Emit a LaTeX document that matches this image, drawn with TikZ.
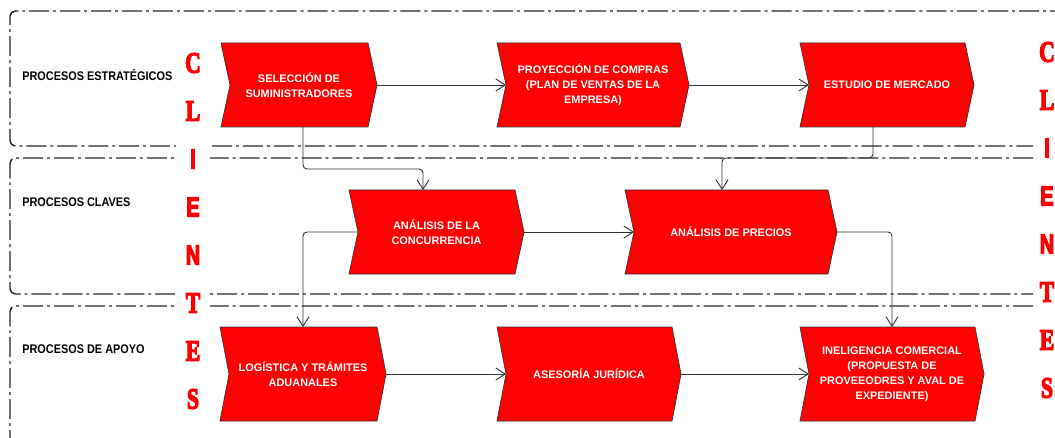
\documentclass[tikz,border=0pt]{standalone}
\usepackage{fontspec}
\setmainfont{Liberation Sans}
\newfontfamily\clisrf{Liberation Serif}[UprightFont={* Bold}]
\newfontfamily\clisans{Liberation Sans}[UprightFont={* Bold}]
\usetikzlibrary{arrows.meta}
\newcommand\heavy[1]{\special{pdf:literal direct 2 Tr 1.1 w}#1\special{pdf:literal direct 0 Tr}}
\newcommand\sletter[1]{\scalebox{0.74}[1]{\clisrf\fontsize{22}{22}\selectfont\heavy{#1}}}
\newcommand\aletter[1]{\scalebox{0.72}[1]{\clisans\fontsize{20.5}{22}\selectfont\heavy{#1}}}
\newcommand\lbltext[1]{\scalebox{0.87}[1]{\bfseries\fontsize{9.4}{11}\selectfont #1}}
\tikzset{
  lane/.style={line width=1.1pt, dash pattern=on 15pt off 3pt on 2.2pt off 3pt, rounded corners=4pt, draw=black!85},
  chev/.style={fill=red, draw=black!80, line width=0.5pt},
  chevtext/.style={text=white, font=\bfseries\fontsize{8.2}{11.2}\selectfont, align=center, inner sep=0pt},
  conn/.style={draw=black!80, line width=0.7pt, rounded corners=3pt, -{Straight Barb[length=7pt,width=9pt]}},
  lbl/.style={anchor=west, inner sep=0pt},
  cli/.style={text=red, inner sep=0pt},
  clibg/.style={cli, fill=white, minimum width=25pt, minimum height=23pt}
}
% name, left, top, flat right, bottom, text
\newcommand\mkchev[6]{%
  \path[chev] (#2,#3) -- (#4,#3) -- ({#4+9},{(#3+#5)/2}) -- (#4,#5) -- (#2,#5) -- ({#2+9},{(#3+#5)/2}) -- cycle;
  \node[chevtext] (#1) at ({(#2+9+#4)/2},{(#3+#5)/2}) {#6};
  \coordinate (#1-w) at ({#2+9},{(#3+#5)/2});
  \coordinate (#1-e) at ({#4+9},{(#3+#5)/2});
  \coordinate (#1-n) at ({(#2+#4)/2},#3);
  \coordinate (#1-s) at ({(#2+#4)/2},#5);
}
\begin{document}
\begin{tikzpicture}[x=0.75pt,y=-0.75pt]
\useasboundingbox[fill=white] (0,0) rectangle (1055,438);
% lanes
\draw[lane] (1070,11) -- (10,11) -- (10,146) -- (1033,146);
\draw[lane] (1033,158) -- (10,158) -- (10,294) -- (1033,294);
\draw[lane] (1033,306) -- (10,306) -- (10,460);
% lane labels
\node[lbl] (l1) at (22,75) {\lbltext{PROCESOS ESTRATÉGICOS}};
\node[lbl] (l2) at (22,202) {\lbltext{PROCESOS CLAVES}};
\node[lbl] (l3) at (22,349) {\lbltext{PROCESOS DE APOYO}};
% shapes
\mkchev{s1}{221}{43}{368}{127}{SELECCIÓN DE\\SUMINISTRADORES}
\mkchev{s2}{497}{43}{680}{127}{PROYECCIÓN DE COMPRAS\\(PLAN DE VENTAS DE LA\\EMPRESA)}
\mkchev{s3}{800}{43}{965}{127}{ESTUDIO DE MERCADO}
\mkchev{s4}{349}{190}{515}{274}{ANÁLISIS DE LA\\CONCURRENCIA}
\mkchev{s5}{625}{190}{828}{274}{ANÁLISIS DE PRECIOS}
\mkchev{s6}{220}{327}{377}{421}{LOGÍSTICA Y TRÁMITES\\ADUANALES}
\mkchev{s7}{497}{327}{672}{421}{ASESORÍA JURÍDICA}
\mkchev{s8}{800}{327}{975}{421}{INELIGENCIA COMERCIAL\\(PROPUESTA DE\\PROVEEODRES Y AVAL DE\\EXPEDIENTE)}
% helper coordinates
\coordinate (xa) at (303,0);
\coordinate (xb) at (873,0);
\coordinate (xc) at (892,0);
\coordinate (ka) at (423,169);
\coordinate (kb) at (722,158);
% connectors
\draw[conn] (s1-e) -- (s2-w);
\draw[conn] (s2-e) -- (s3-w);
\draw[conn] (s1-s -| xa) |- (ka) -- (s4-n -| ka);
\draw[conn] (s3-s -| xb) |- (kb) -- (s5-n -| kb);
\draw[conn] (s4-w) -| (s6-n -| xa);
\draw[conn] (s4-e) -- (s5-w);
\draw[conn] (s5-e) -| (s8-n -| xc);
\draw[conn] (s6-e) -- (s7-w);
\draw[conn] (s7-e) -- (s8-w);
% CLIENTES left
\node[clibg] (cl1) at (193,63) {\sletter{C}};
\node[clibg] (cl2) at (193,111) {\sletter{L}};
\node[clibg] (cl3) at (193,159) {\aletter{I}};
\node[clibg] (cl4) at (193,207) {\aletter{E}};
\node[clibg] (cl5) at (193,255) {\aletter{N}};
\node[clibg] (cl6) at (193,303) {\sletter{T}};
\node[clibg] (cl7) at (193,351) {\sletter{E}};
\node[clibg] (cl8) at (193,399) {\sletter{S}};
% CLIENTES right
\node[cli] (cr1) at (1047,52) {\sletter{C}};
\node[cli] (cr2) at (1047,100) {\sletter{L}};
\node[cli] (cr3) at (1047,148) {\aletter{I}};
\node[cli] (cr4) at (1047,196) {\aletter{E}};
\node[cli] (cr5) at (1047,244) {\aletter{N}};
\node[cli] (cr6) at (1047,292) {\sletter{T}};
\node[cli] (cr7) at (1047,340) {\sletter{E}};
\node[cli] (cr8) at (1047,388) {\sletter{S}};
\end{tikzpicture}
\end{document}
